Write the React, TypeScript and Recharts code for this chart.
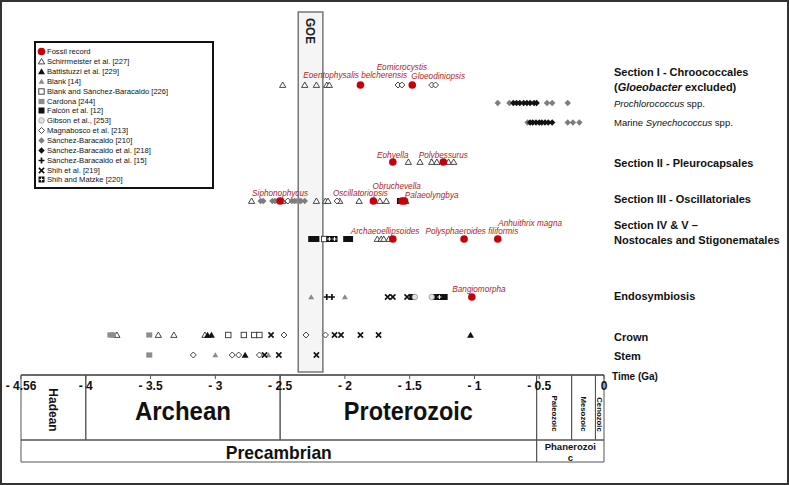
import React from 'react';
import { ScatterChart, Scatter, XAxis, YAxis, ReferenceArea } from 'recharts';

const SANS = 'Arial, "Liberation Sans", Helvetica, sans-serif';
const NARROW = '"Liberation Sans Narrow", "Arial Narrow", Arial, "Liberation Sans", sans-serif';
const RED = '#c8000a';
const LABEL_RED = '#b01e24';

// vertical slot of each row (1 unit ~ 10px above the time axis)
const ROW_Y: Record<string, number> = {
  sec1: 29.0,
  prochl: 27.2,
  synech: 25.25,
  sec2: 21.3,
  sec3: 17.4,
  sec45: 13.6,
  endo: 7.8,
  crown: 4.0,
  stem: 2.0,
};

// time axis (Ga)
const TICKS = [-4.5, -4, -3.5, -3, -2.5, -2, -1.5, -1, -0.5, 0];
const TICK_LABELS = ['- 4.56', '- 4', '- 3.5', '- 3', '- 2.5', '- 2', '- 1.5', '- 1', '- 0.5', '0'];

const GOE = [-2.36, -2.17];

type Pt = [string, number];

const FOSSIL: Pt[] = [
  ['sec1', -1.88], ['sec1', -1.48],
  ['sec2', -1.63], ['sec2', -1.24],
  ['sec3', -2.5], ['sec3', -1.78], ['sec3', -1.56], ['sec3', -1.54],
  ['sec45', -1.63], ['sec45', -1.08], ['sec45', -0.82],
  ['endo', -1.02],
];
const SCHIRRMEISTER: Pt[] = [
  ['sec1', -2.48], ['sec1', -2.31], ['sec1', -2.22], ['sec1', -2.14], ['sec1', -2.12],
  ['sec2', -1.51], ['sec2', -1.42], ['sec2', -1.33], ['sec2', -1.29], ['sec2', -1.2], ['sec2', -1.16],
  ['sec3', -2.72], ['sec3', -2.48], ['sec3', -2.22], ['sec3', -2.15], ['sec3', -2.13], ['sec3', -2.04],
  ['sec3', -1.89], ['sec3', -1.73], ['sec3', -1.68], ['sec3', -1.53],
  ['sec45', -1.75], ['sec45', -1.72], ['sec45', -1.7], ['sec45', -1.66],
  ['crown', -3.76], ['crown', -3.44], ['crown', -3.32], ['crown', -3.08],
];
const BATTISTUZZI: Pt[] = [['crown', -3.06], ['crown', -3.03], ['crown', -1.03], ['stem', -2.77]];
const BLANK: Pt[] = [['endo', -2.26], ['endo', -2.0], ['stem', -3.0], ['stem', -2.59]];
const BLANK_SB: Pt[] = [['sec45', -2.16], ['crown', -2.9], ['crown', -2.78], ['crown', -2.7], ['crown', -2.66]];
const CARDONA: Pt[] = [['crown', -3.81], ['crown', -3.79], ['crown', -3.51], ['stem', -3.51], ['sec3', -2.36]];
const FALCON: Pt[] = [
  ['sec45', -2.26], ['sec45', -2.22], ['sec45', -1.99], ['sec45', -1.96],
  ['endo', -1.48], ['endo', -1.3], ['endo', -1.23], ['sec3', -1.575],
];
const GIBSON: Pt[] = [['endo', -1.46], ['endo', -1.33]];
const MAGNABOSCO: Pt[] = [
  ['sec1', -1.59], ['sec1', -1.56], ['sec1', -1.33], ['sec1', -1.3],
  ['sec3', -2.44], ['sec3', -2.06],
  ['crown', -2.47], ['crown', -2.3], ['crown', -2.15],
  ['stem', -3.17], ['stem', -2.87], ['stem', -2.82], ['stem', -2.66],
];
const SB_210: Pt[] = [
  ['sec3', -2.65], ['sec3', -2.63], ['sec3', -2.56], ['sec3', -2.54], ['sec3', -2.52],
  ['sec3', -2.41], ['sec3', -2.39], ['sec3', -2.34], ['sec3', -2.31],
  ['prochl', -0.82], ['prochl', -0.73], ['prochl', -0.44], ['prochl', -0.4], ['prochl', -0.28],
  ['synech', -0.59], ['synech', -0.28], ['synech', -0.24], ['synech', -0.19],
];
const SB_218: Pt[] = [
  ['prochl', -0.7], ['prochl', -0.675], ['prochl', -0.65], ['prochl', -0.62],
  ['prochl', -0.595], ['prochl', -0.57], ['prochl', -0.54], ['prochl', -0.52],
  ['synech', -0.57], ['synech', -0.55], ['synech', -0.525], ['synech', -0.5],
  ['synech', -0.48], ['synech', -0.455], ['synech', -0.43], ['synech', -0.4],
];
const SB_15: Pt[] = [['endo', -2.14], ['endo', -2.1]];
const SHIH: Pt[] = [
  ['endo', -1.67], ['endo', -1.63], ['endo', -1.52],
  ['crown', -2.57], ['crown', -2.08], ['crown', -2.03], ['crown', -1.88], ['crown', -1.74],
  ['stem', -2.62], ['stem', -2.51], ['stem', -2.22],
];
const SHIH_MATZKE: Pt[] = [['sec45', -2.12], ['sec45', -2.08], ['endo', -1.27]];

// fossil names: [name, Ga, row slot]
const FOSSIL_LABELS: [string, number, number][] = [
  ['Eoentophysalis belcherensis', -1.92, 29.93],
  ['Eomicrocystis', -1.56, 30.8],
  ['Gloeodiniopsis', -1.28, 29.9],
  ['Eohyella', -1.63, 22.0],
  ['Polybessurus', -1.24, 22.0],
  ['Siphonophycus', -2.5, 18.2],
  ['Oscillatoriopsis', -1.88, 18.2],
  ['Obruchevella', -1.6, 18.9],
  ['Palaeolyngbya', -1.33, 18.0],
  ['Archaeoellipsoides', -1.69, 14.4],
  ['Polysphaeroides filiformis', -1.02, 14.4],
  ['Anhuithrix magna', -0.57, 15.2],
  ['Bangiomorpha', -0.965, 8.6],
];

type Seg = [string, string];
const ROW_LABELS: { v: number; lines: Seg[][] }[] = [
  { v: 29.55, lines: [[['Section I - Chroococcales', 'b']], [['(', 'b'], ['Gloeobacter', 'bi'], [' excluded)', 'b']]] },
  { v: 27.2, lines: [[['Prochlorococcus', 'i'], [' spp.', 'n']]] },
  { v: 25.3, lines: [[['Marine ', 'n'], ['Synechococcus', 'i'], [' spp.', 'n']]] },
  { v: 21.25, lines: [[['Section II - Pleurocapsales', 'b']]] },
  { v: 17.6, lines: [[['Section III - Oscillatoriales', 'b']]] },
  { v: 14.25, lines: [[['Section IV & V \u2013', 'b']], [['Nostocales and Stigonematales', 'b']]] },
  { v: 7.9, lines: [[['Endosymbiosis', 'b']]] },
  { v: 3.8, lines: [[['Crown', 'b']]] },
  { v: 1.9, lines: [[['Stem', 'b']]] },
];

const ERAS = [
  { name: 'Hadean', from: -4.5, to: -4 },
  { name: 'Archean', from: -4, to: -2.5 },
  { name: 'Proterozoic', from: -2.5, to: -0.52 },
  { name: 'Paleozoic', from: -0.52, to: -0.25 },
  { name: 'Mesozoic', from: -0.25, to: -0.066 },
  { name: 'Cenozoic', from: -0.066, to: 0 },
];
const EONS = [
  { name: 'Precambrian', from: -4.5, to: -0.52 },
  { name: 'Phanerozoic', from: -0.52, to: 0 },
];

const SERIES = [
  { kind: 'fossil', name: 'Fossil record', data: FOSSIL },
  { kind: 'triOpen', name: 'Schirrmeister et al. [227]', data: SCHIRRMEISTER },
  { kind: 'triBlack', name: 'Battistuzzi et al. [229]', data: BATTISTUZZI },
  { kind: 'triGray', name: 'Blank [14]', data: BLANK },
  { kind: 'sqOpen', name: 'Blank and S\u00e1nchez-Baracaldo [226]', data: BLANK_SB },
  { kind: 'sqGray', name: 'Cardona [244]', data: CARDONA },
  { kind: 'sqBlack', name: 'Falc\u00f3n et al. [12]', data: FALCON },
  { kind: 'circGray', name: 'Gibson et al., [253]', data: GIBSON },
  { kind: 'diaOpen', name: 'Magnabosco et al. [213]', data: MAGNABOSCO },
  { kind: 'diaGray', name: 'S\u00e1nchez-Baracaldo [210]', data: SB_210 },
  { kind: 'diaBlack', name: 'S\u00e1nchez-Baracaldo et al. [218]', data: SB_218 },
  { kind: 'plus', name: 'S\u00e1nchez-Baracaldo et al. [15]', data: SB_15 },
  { kind: 'cross', name: 'Shih et al. [219]', data: SHIH },
  { kind: 'sqPlus', name: 'Shih and Matzke [220]', data: SHIH_MATZKE },
];

const tri = (cx: number, cy: number, r: number) =>
  `${cx},${cy - r} ${cx + r * 1.05},${cy + r * 0.8} ${cx - r * 1.05},${cy + r * 0.8}`;
const dia = (cx: number, cy: number, r: number) =>
  `${cx},${cy - r} ${cx + r},${cy} ${cx},${cy + r} ${cx - r},${cy}`;

function Marker({ kind, cx, cy }: { kind: string; cx: number; cy: number }) {
  switch (kind) {
    case 'fossil':
      return <circle cx={cx} cy={cy} r={3.8} fill={RED} />;
    case 'triOpen':
      return <polygon points={tri(cx, cy, 3)} fill="#fff" stroke="#333" strokeWidth={0.9} />;
    case 'triBlack':
      return <polygon points={tri(cx, cy, 3.3)} fill="#111" />;
    case 'triGray':
      return <polygon points={tri(cx, cy, 2.8)} fill="#8a8a8a" />;
    case 'sqOpen':
      return <rect x={cx - 2.7} y={cy - 2.7} width={5.4} height={5.4} fill="#fff" stroke="#333" strokeWidth={0.9} />;
    case 'sqGray':
      return <rect x={cx - 3} y={cy - 2.6} width={6} height={5.2} fill="#8c8c8c" />;
    case 'sqBlack':
      return <rect x={cx - 3} y={cy - 3} width={6} height={6} fill="#111" />;
    case 'circGray':
      return <circle cx={cx} cy={cy} r={2.8} fill="#e2e2e2" stroke="#999" strokeWidth={0.8} />;
    case 'diaOpen':
      return <polygon points={dia(cx, cy, 3)} fill="#fff" stroke="#333" strokeWidth={0.9} />;
    case 'diaGray':
      return <polygon points={dia(cx, cy, 3.2)} fill="#7d7d7d" />;
    case 'diaBlack':
      return <polygon points={dia(cx, cy, 3.2)} fill="#111" />;
    case 'plus':
      return (
        <path d={`M${cx - 3},${cy} L${cx + 3},${cy} M${cx},${cy - 3} L${cx},${cy + 3}`} stroke="#111" strokeWidth={1.7} />
      );
    case 'cross':
      return (
        <path
          d={`M${cx - 2.6},${cy - 2.6} L${cx + 2.6},${cy + 2.6} M${cx + 2.6},${cy - 2.6} L${cx - 2.6},${cy + 2.6}`}
          stroke="#111"
          strokeWidth={1.6}
        />
      );
    case 'sqPlus':
      return (
        <g>
          <rect x={cx - 3} y={cy - 3} width={6} height={6} fill="#111" />
          <path d={`M${cx - 2},${cy} L${cx + 2},${cy} M${cx},${cy - 2} L${cx},${cy + 2}`} stroke="#fff" strokeWidth={1} />
        </g>
      );
    default:
      return null;
  }
}

function RowTick(props: any) {
  const { x, y, payload } = props;
  const row = ROW_LABELS.find((r) => Math.abs(r.v - payload.value) < 1e-6);
  if (!row) return null;
  const n = row.lines.length;
  return (
    <g>
      {row.lines.map((line, i) => {
        const bold = line.some(([, s]) => s.includes('b'));
        return (
          <text
            key={i}
            x={x}
            y={y + (i - (n - 1) / 2) * 15}
            dominantBaseline="central"
            fontFamily={SANS}
            fontSize={bold ? 11 : 9.5}
            fill="#111"
          >
            {line.map(([t, s], j) => (
              <tspan key={j} fontWeight={s.includes('b') ? 'bold' : 'normal'} fontStyle={s.includes('i') ? 'italic' : 'normal'}>
                {t}
              </tspan>
            ))}
          </text>
        );
      })}
    </g>
  );
}

function TimeTick(props: any) {
  const { x, y, payload } = props;
  const label = TICK_LABELS[TICKS.indexOf(payload.value)];
  return (
    <text x={x} y={y + 9} textAnchor="middle" fontFamily={NARROW} fontWeight="bold" fontSize={12} fill="#111">
      {label}
    </text>
  );
}

const CELL_STYLE: Record<string, { size: number; rotate?: boolean; dy: number; len?: number }> = {
  Hadean: { size: 12, rotate: true, dy: 2.5 },
  Archean: { size: 25, dy: 3.5, len: 96 },
  Proterozoic: { size: 25, dy: 3.5, len: 129 },
  Paleozoic: { size: 7.8, rotate: true, dy: 6 },
  Mesozoic: { size: 7.8, rotate: true, dy: 6.5 },
  Cenozoic: { size: 7.8, rotate: true, dy: 7 },
  Precambrian: { size: 19, dy: 1, len: 106 },
  Phanerozoic: { size: 9.5, dy: 0 },
};

function CellLabel(props: any) {
  const { viewBox, name } = props;
  if (!viewBox) return null;
  const cx = viewBox.x + viewBox.width / 2;
  const cy = viewBox.y + viewBox.height / 2;
  const st = CELL_STYLE[name];
  if (name === 'Phanerozoic') {
    return (
      <g fontFamily={NARROW} fontWeight="bold" fontSize={st.size} fill="#111" textAnchor="middle">
        <text x={cx} y={cy - 5} dominantBaseline="central">Phanerozoi</text>
        <text x={cx} y={cy + 6} dominantBaseline="central">c</text>
      </g>
    );
  }
  if (st.rotate) {
    return (
      <text
        transform={`translate(${cx},${cy + st.dy}) rotate(90)`}
        textAnchor="middle"
        dominantBaseline="central"
        fontFamily={SANS}
        fontWeight="bold"
        fontSize={st.size}
        fill="#111"
      >
        {name}
      </text>
    );
  }
  return (
    <text
      x={cx}
      y={cy + st.dy}
      textAnchor="middle"
      dominantBaseline="central"
      fontFamily={NARROW}
      fontWeight="bold"
      fontSize={st.size}
      fill="#111"
      textLength={st.len}
      lengthAdjust="spacingAndGlyphs"
    >
      {name}
    </text>
  );
}

function GoeLabel(props: any) {
  const { viewBox } = props;
  if (!viewBox) return null;
  const cx = viewBox.x + viewBox.width / 2;
  return (
    <text
      transform={`translate(${cx},${viewBox.y + 19}) rotate(90)`}
      textAnchor="middle"
      dominantBaseline="central"
      fontFamily={NARROW}
      fontWeight="bold"
      fontSize={13}
      fill="#222"
      textLength={26}
      lengthAdjust="spacingAndGlyphs"
    >
      GOE
    </text>
  );
}

function TimeLabel(props: any) {
  const vb = props.viewBox;
  if (!vb) return null;
  return (
    <text x={vb.x + vb.width + 8} y={vb.y + 4.5} fontFamily={NARROW} fontWeight="bold" fontSize={10} fill="#111">
      Time (Ga)
    </text>
  );
}

function Legend() {
  return (
    <div
      style={{
        position: 'absolute',
        left: 34,
        top: 41,
        width: 180,
        height: 148,
        boxSizing: 'border-box',
        border: '2px solid #111',
        background: '#fff',
        paddingTop: 4,
        paddingLeft: 1,
        fontFamily: SANS,
        fontSize: 7.6,
        color: '#111',
      }}
    >
      {SERIES.map((s) => (
        <div key={s.name} style={{ height: 9.85, display: 'flex', alignItems: 'center', whiteSpace: 'nowrap' }}>
          <svg width={9} height={9} style={{ flex: 'none' }}>
            <Marker kind={s.kind} cx={4.5} cy={4.5} />
          </svg>
          <span style={{ marginLeft: 1 }}>{s.name}</span>
        </div>
      ))}
    </div>
  );
}

export default function App() {
  const labelData = FOSSIL_LABELS.map(([name, x, y]) => ({ x, y, name }));
  const drawOrder = [...SERIES.slice(1), SERIES[0]];
  return (
    <div style={{ position: 'absolute', left: 0, top: 0, width: 789, height: 485, background: '#fff' }}>
      <ScatterChart width={789} height={485} margin={{ top: 12, right: 0, bottom: 80, left: 21 }}>
        <XAxis
          type="number"
          dataKey="x"
          domain={[-4.5, 0]}
          ticks={TICKS}
          interval={0}
          height={30}
          tickSize={4}
          tickMargin={2}
          axisLine={{ stroke: '#555', strokeWidth: 1.5 }}
          tickLine={{ stroke: '#555' }}
          tick={(p: any) => <TimeTick {...p} />}
          label={(p: any) => <TimeLabel {...p} />}
        />
        <YAxis
          yAxisId={0}
          orientation="right"
          type="number"
          dataKey="y"
          domain={[0, 36.3]}
          ticks={ROW_LABELS.map((r) => r.v)}
          interval={0}
          width={185}
          axisLine={false}
          tickLine={false}
          tickSize={0}
          tickMargin={10}
          tick={(p: any) => <RowTick {...p} />}
        />
        <ReferenceArea
          x1={GOE[0]}
          x2={GOE[1]}
          y1={0.3}
          y2={36.3}
          fill="#f5f5f5"
          fillOpacity={1}
          stroke="#777"
          strokeWidth={1.5}
          label={<GoeLabel />}
        />
        {ERAS.map((e) => (
          <ReferenceArea
            key={e.name}
            x1={e.from}
            x2={e.to}
            y1={-6.5}
            y2={0}
            ifOverflow="visible"
            fill="#fff"
            fillOpacity={0}
            stroke="#555"
            strokeWidth={1}
            label={<CellLabel name={e.name} />}
          />
        ))}
        {EONS.map((e) => (
          <ReferenceArea
            key={e.name}
            x1={e.from}
            x2={e.to}
            y1={-8.7}
            y2={-6.5}
            ifOverflow="visible"
            fill="#fff"
            fillOpacity={0}
            stroke="#555"
            strokeWidth={1}
            label={<CellLabel name={e.name} />}
          />
        ))}
        {drawOrder.map((s) => (
          <Scatter
            key={s.name}
            name={s.name}
            data={s.data.map(([row, t]) => ({ x: t, y: ROW_Y[row] }))}
            isAnimationActive={false}
            shape={(p: any) => <Marker kind={s.kind} cx={p.cx} cy={p.cy} />}
          />
        ))}
        <Scatter
          name="labels"
          data={labelData}
          isAnimationActive={false}
          legendType="none"
          shape={(p: any) => (
            <text
              x={p.cx}
              y={p.cy}
              textAnchor="middle"
              dominantBaseline="central"
              fontFamily={SANS}
              fontStyle="italic"
              fontSize={8.2}
              fill={LABEL_RED}
            >
              {p.payload?.name ?? p.name}
            </text>
          )}
        />
      </ScatterChart>
      <Legend />
      <div
        style={{
          position: 'absolute',
          left: 0,
          top: 0,
          width: 789,
          height: 485,
          boxSizing: 'border-box',
          border: '2px solid #333',
          pointerEvents: 'none',
        }}
      />
    </div>
  );
}
